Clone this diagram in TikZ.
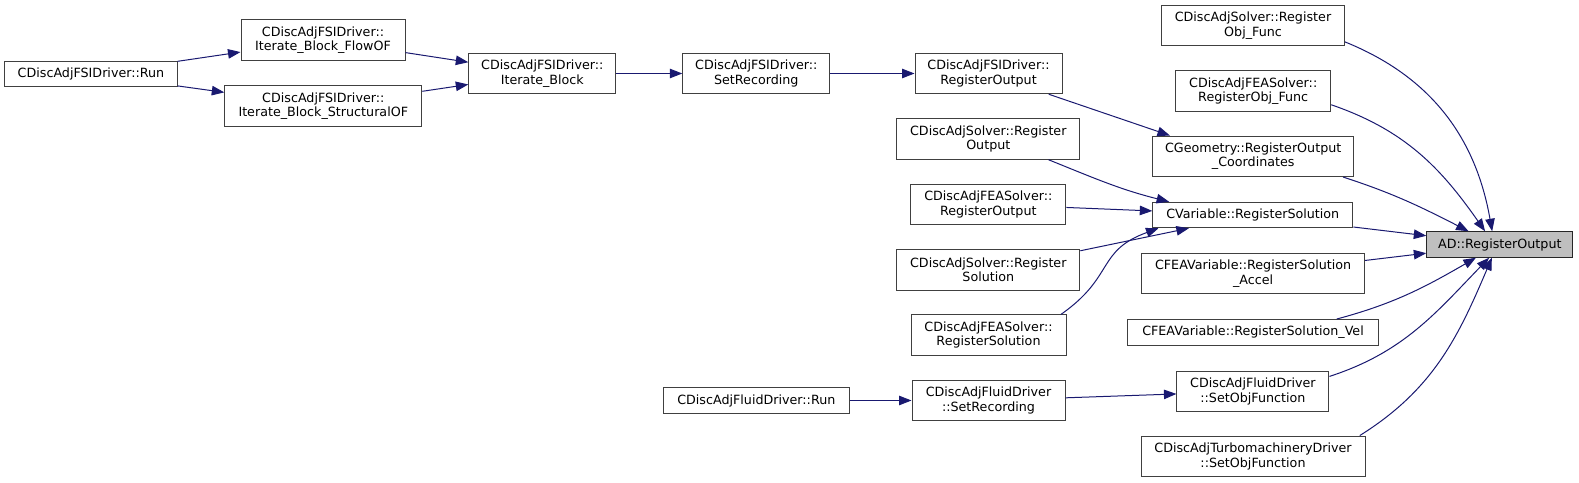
\documentclass[tikz,border=0pt]{standalone}
\usepackage{fontspec}
\setmainfont{DejaVu Sans}
\usetikzlibrary{arrows.meta}
\def\wEdge{1.0bp}
\def\wBox{1.0bp}
\definecolor{cEdge}{HTML}{191970}
\definecolor{cInk}{HTML}{404040}
\definecolor{cHit}{HTML}{BFBFBF}
\tikzset{
  graph/.style={font=\fontsize{12.75pt}{14.5pt}\selectfont, every node/.style={align=center}},
  fn/.style={draw=cInk, line width=\wBox, fill=white, inner sep=1bp, minimum height=40.5bp},
  fn1/.style={fn, minimum height=25.5bp},
  hit/.style={fn1, fill=cHit, draw=black!85},
  call/.style={draw=cEdge, line width=\wEdge, -{Triangle[length=12.5bp, width=9.5bp]}},
}

\begin{document}
\begin{tikzpicture}[graph, x=1bp, y=1bp]
\useasboundingbox (0,0) rectangle (1579,-483);
% Columns at x = 91, 323, 542, 756, 988, 1253, 1500 (pixel grid, y down as negative).

% ---- FSI driver chain
\node[fn1, minimum width=172bp] (fsirun) at (91,-74) {CDiscAdjFSIDriver::Run};
\node[fn, minimum width=164bp] (flowof) at (323,-40) {CDiscAdjFSIDriver::\\Iterate\_Block\_FlowOF};
\node[fn, minimum width=197bp] (structof) at (323.3,-106) {CDiscAdjFSIDriver::\\Iterate\_Block\_StructuralOF};
\node[fn, minimum width=147bp] (iterblock) at (542.3,-73.5) {CDiscAdjFSIDriver::\\Iterate\_Block};
\node[fn, minimum width=147bp] (fsisetrec) at (756.3,-73.5) {CDiscAdjFSIDriver::\\SetRecording};
\node[fn, minimum width=147bp] (fsiregout) at (988.5,-73.5) {CDiscAdjFSIDriver::\\RegisterOutput};

% ---- solvers
\node[fn, minimum width=183bp] (solvregout) at (988.3,-139) {CDiscAdjSolver::Register\\Output};
\node[fn, minimum width=155bp] (fearegout) at (988.3,-204.3) {CDiscAdjFEASolver::\\RegisterOutput};
\node[fn, minimum width=183bp] (solvregsol) at (988.3,-269.8) {CDiscAdjSolver::Register\\Solution};
\node[fn, minimum width=155bp] (fearegsol) at (988.5,-335.2) {CDiscAdjFEASolver::\\RegisterSolution};

% ---- fluid driver chain
\node[fn1, minimum width=186bp] (fluidrun) at (756.3,-400.5) {CDiscAdjFluidDriver::Run};
\node[fn, minimum width=153bp] (fluidsetrec) at (988.5,-400.5) {CDiscAdjFluidDriver\\::SetRecording};

% ---- direct callers
\node[fn, minimum width=183bp] (solvobjf) at (1253,-25.7) {CDiscAdjSolver::Register\\Obj\_Func};
\node[fn, minimum width=155bp] (feaobjf) at (1253.2,-91) {CDiscAdjFEASolver::\\RegisterObj\_Func};
\node[fn, minimum width=201bp] (cgeom) at (1253.2,-156.3) {CGeometry::RegisterOutput\\\_Coordinates};
\node[fn1, minimum width=200bp] (cvar) at (1252.8,-215) {CVariable::RegisterSolution};
\node[fn, minimum width=223bp] (accel) at (1253.1,-273.7) {CFEAVariable::RegisterSolution\\\_Accel};
\node[fn1, minimum width=251bp] (vel) at (1253,-332.3) {CFEAVariable::RegisterSolution\_Vel};
\node[fn, minimum width=152bp] (fluidsetobj) at (1252.9,-391.3) {CDiscAdjFluidDriver\\::SetObjFunction};
\node[fn, minimum width=224bp] (turbo) at (1253,-456.3) {CDiscAdjTurbomachineryDriver\\::SetObjFunction};

% ---- the function itself
\node[hit, minimum width=146bp] (ad) at (1499.8,-244.5) {AD::RegisterOutput};

% ---- calls
\draw[call] (fsirun) -- (flowof);
\draw[call] (fsirun) -- (structof);
\draw[call] (flowof) -- (iterblock);
\draw[call] (structof) -- (iterblock);
\draw[call] (iterblock) -- (fsisetrec);
\draw[call] (fsisetrec) -- (fsiregout);
\draw[call] (fsiregout.-19) -- (cgeom.166);
\draw[call] (solvregout.-19) to[out=-22, in=166] (cvar.171);
\draw[call] (fearegout) -- (cvar);
\draw[call] (solvregsol) -- (cvar);
\draw[call] (fearegsol.16) to[out=35, in=-160, looseness=1.3] (cvar.-172);
\draw[call] (fluidrun) -- (fluidsetrec);
\draw[call] (fluidsetrec) -- (fluidsetobj);
% ---- into AD::RegisterOutput
\draw[call] (solvobjf.-10) to[out=-22, in=100] (ad.120);
\draw[call] (feaobjf.-10) to[out=-19, in=125] (ad.138);
\draw[call] (cgeom.-13) to[out=-18, in=153] (ad.157);
\draw[call] (cvar) -- (ad);
\draw[call] (accel) -- (ad);
\draw[call] (vel.9) to[out=15, in=-150] (ad.-151);
\draw[call] (fluidsetobj.11) to[out=18, in=-134] (ad.-129);
\draw[call] (turbo.11) to[out=32, in=-113] (ad.-121);
\end{tikzpicture}
\end{document}
